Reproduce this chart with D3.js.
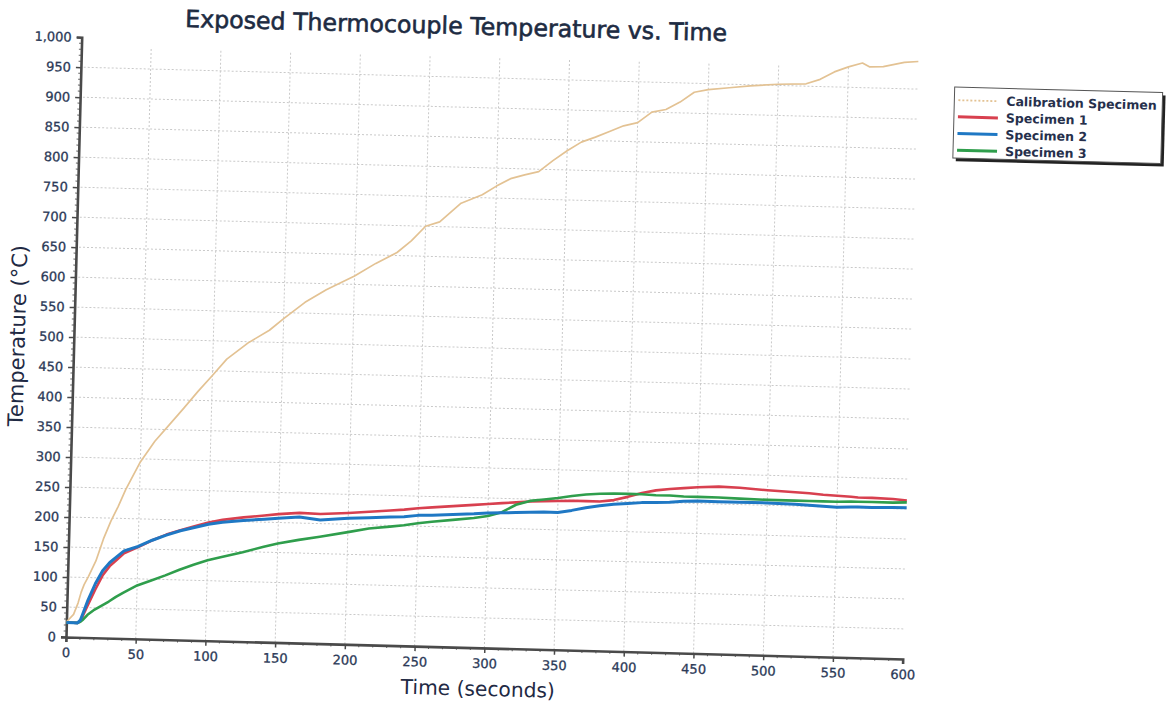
<!DOCTYPE html>
<html>
<head>
<meta charset="utf-8">
<script src="https://cdn.jsdelivr.net/npm/d3@7"></script>
<style>
  body { margin: 0; background: #fff; }
  text { font-family: "DejaVu Sans", Verdana, sans-serif; }
</style>
</head>
<body>
<svg id="chart" width="1167" height="708"></svg>
<script>
// sample times (seconds), shared by all four series
const times = [0, 5, 8, 10, 12, 15, 20, 25, 30, 35, 40, 50, 60, 70, 80, 90, 100, 110, 125, 140, 150,
  165, 180, 200, 215, 230, 240, 250, 260, 275, 290, 300, 310, 320, 330, 340, 350, 360, 370, 380,
  390, 400, 410, 420, 430, 440, 450, 465, 480, 500, 520, 530, 540, 550, 560, 565, 575, 590, 600];

const calibration = [25, 38, 57, 75, 88, 102, 128, 165, 195, 220, 248, 295, 330, 358, 386, 415, 442, 470, 498, 520, 540,
  568, 590, 614, 636, 655, 675, 700, 708, 740, 755, 770, 783, 790, 796, 815, 832, 847, 856, 866,
  876, 882, 900, 905, 918, 935, 940, 944, 948, 952, 954, 962, 975, 984, 991, 985, 986, 994, 996];

const specimen1 = [24, 24, 24, 27, 38, 54, 80, 104, 120, 131, 142, 153, 165, 175, 183, 190, 197, 202, 207, 211, 214,
  217, 216, 219, 222, 225, 227, 230, 232, 235, 238, 240, 242, 244, 246, 247, 248, 249, 249, 249,
  252, 258, 265, 270, 273, 275, 277, 279, 278, 275, 273, 272, 270, 269, 268, 267, 267, 266, 264];

const specimen2 = [24, 24, 24, 29, 42, 62, 90, 112, 126, 136, 146, 154, 165, 174, 182, 188, 194, 198, 202, 205, 207,
  210, 206, 210, 212, 214, 215, 218, 219, 221, 223, 225, 226, 227, 228, 229, 229, 233, 238, 242,
  245, 247, 249, 250, 251, 253, 254, 254, 254, 254, 253, 252, 251, 250, 251, 251, 251, 252, 252];

const specimen3 = [24, 24, 24, 26, 30, 38, 47, 54, 61, 69, 76, 89, 98, 107, 117, 126, 134, 140, 149, 159, 165,
  172, 178, 187, 194, 198, 201, 205, 208, 212, 216, 220, 227, 240, 247, 250, 253, 257, 260, 262,
  263, 263, 263, 262, 262, 261, 261, 261, 260, 259, 259, 259, 259, 259, 260, 260, 260, 260, 261];

const seriesNames = ["Calibration Specimen", "Specimen 1", "Specimen 2", "Specimen 3"];
const seriesColors = ["#e3c293", "#d8404f", "#1f78c4", "#2f9e4c"];
const xTicks = d3.range(0, 601, 50);
const yTicks = d3.range(0, 1001, 50);

const svg = d3.select("#chart");
const ox = 66, oy = 637;          // plot origin (0 s, 0 °C)
const width = 837, height = 600;

// the scanned page is tilted a little, so the whole chart is turned
const g = svg.append("g").attr("transform", `rotate(1.5, ${ox}, ${oy})`);

const x = d3.scaleLinear().domain([0, 600]).range([ox, ox + width]);
const y = d3.scaleLinear().domain([0, 1000]).range([oy, oy - height]);

// grid
g.append("g").selectAll("line")
  .data(xTicks.filter(d => d > 0 && d < 600))
  .join("line")
  .attr("x1", d => x(d)).attr("x2", d => x(d))
  .attr("y1", y(0)).attr("y2", y(985))
  .attr("stroke", "#c9c9c9").attr("stroke-dasharray", "2,2");

g.append("g").selectAll("line")
  .data(yTicks.filter(d => d > 0 && d < 1000))
  .join("line")
  .attr("x1", x(2)).attr("x2", x(600))
  .attr("y1", d => y(d)).attr("y2", d => y(d))
  .attr("stroke", "#c9c9c9").attr("stroke-dasharray", "2,2");

// minor ticks
g.append("g").selectAll("line")
  .data(d3.range(0, 601, 10).filter(d => d % 50))
  .join("line")
  .attr("x1", d => x(d)).attr("x2", d => x(d))
  .attr("y1", oy).attr("y2", oy + 2.5)
  .attr("stroke", "#666");

g.append("g").selectAll("line")
  .data(d3.range(0, 1001, 10).filter(d => d % 50))
  .join("line")
  .attr("x1", ox - 2.5).attr("x2", ox)
  .attr("y1", d => y(d)).attr("y2", d => y(d))
  .attr("stroke", "#666");

// axes
const xAxis = g.append("g")
  .attr("transform", `translate(0,${oy})`)
  .call(d3.axisBottom(x).tickValues(xTicks).tickSize(5).tickPadding(6));

const yAxis = g.append("g")
  .attr("transform", `translate(${ox},0)`)
  .call(d3.axisLeft(y).tickValues(yTicks).tickFormat(d3.format(",")).tickSize(5).tickPadding(5));

[xAxis, yAxis].forEach(a => {
  a.select(".domain").attr("stroke", "#4a4a4a").attr("stroke-width", 2.6);
  a.selectAll(".tick line").attr("stroke", "#4a4a4a").attr("stroke-width", 1.5);
  a.selectAll(".tick text")
    .attr("font-family", "DejaVu Sans, sans-serif")
    .attr("font-size", 13)
    .attr("fill", "#2c3a58")
    .attr("stroke", "#2c3a58").attr("stroke-width", 0.3);
});

// lines
const line = d3.line()
  .x((d, i) => x(times[i]))
  .y(d => y(d));

const series = [calibration, specimen1, specimen3, specimen2];
const order = [0, 1, 3, 2];
series.forEach((vals, k) => {
  const idx = order[k];
  g.append("path")
    .datum(vals)
    .attr("d", line)
    .attr("fill", "none")
    .attr("stroke", seriesColors[idx])
    .attr("stroke-width", idx === 0 ? 1.7 : (idx === 2 ? 3 : 2.6))
    .attr("stroke-linejoin", "round");
});

// title and axis labels
g.append("text")
  .attr("x", 440).attr("y", 24)
  .attr("text-anchor", "middle")
  .attr("font-size", 23.7)
  .attr("fill", "#1d2b42")
  .attr("stroke", "#1d2b42").attr("stroke-width", 0.6)
  .text("Exposed Thermocouple Temperature vs. Time");

g.append("text")
  .attr("x", 479).attr("y", 685)
  .attr("text-anchor", "middle")
  .attr("font-size", 20.2)
  .attr("fill", "#1f2a44")
  .text("Time (seconds)");

g.append("text")
  .attr("transform", "translate(17,337) rotate(-90)")
  .attr("text-anchor", "middle")
  .attr("font-size", 21)
  .attr("fill", "#1f2a44")
  .text("Temperature (°C)");

// legend
const legend = g.append("g").attr("transform", "translate(940,64)");
legend.append("rect")
  .attr("x", 3).attr("y", 3).attr("width", 208).attr("height", 71)
  .attr("fill", "#222");
legend.append("rect")
  .attr("width", 208).attr("height", 71)
  .attr("fill", "#fff").attr("stroke", "#555").attr("stroke-width", 1);

seriesNames.forEach((name, i) => {
  const row = legend.append("g").attr("transform", `translate(0,${13 + i * 16.7})`);
  row.append("line")
    .attr("x1", 4).attr("x2", 44)
    .attr("stroke", seriesColors[i])
    .attr("stroke-width", i === 0 ? 1.8 : 3)
    .attr("stroke-dasharray", i === 0 ? "2,2" : null);
  row.append("text")
    .attr("x", 52).attr("dy", "0.35em")
    .attr("font-size", 12.5)
    .attr("font-weight", "bold")
    .attr("fill", "#26304c")
    .text(name);
});
</script>
</body>
</html>
